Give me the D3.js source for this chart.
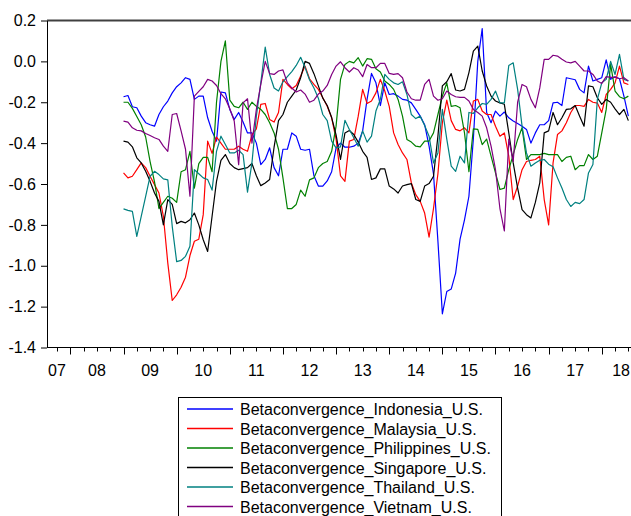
<!DOCTYPE html>
<html>
<head>
<meta charset="utf-8">
<script src="https://cdn.jsdelivr.net/npm/d3@7"></script>
<style>
  html, body { margin: 0; padding: 0; background: #fff; }
  svg text { font-family: "Liberation Sans", Arial, sans-serif; fill: #000; }
</style>
</head>
<body>
<div id="chart"></div>
<script>
// monthly observations, 2009M01 .. 2018M07
const startYear = 2009;

const indonesia = [-0.173,-0.167,-0.222,-0.227,-0.268,-0.30,-0.31,-0.317,-0.26,-0.222,-0.194,-0.154,-0.124,-0.105,-0.08,-0.088,-0.186,-0.17,-0.17,-0.276,
  -0.342,-0.39,-0.15,-0.154,-0.235,-0.284,-0.25,-0.297,-0.35,-0.35,-0.40,-0.505,-0.48,-0.423,-0.52,-0.56,-0.43,-0.43,-0.35,-0.366,
  -0.43,-0.435,-0.43,-0.56,-0.61,-0.61,-0.585,-0.54,-0.423,-0.40,-0.42,-0.42,-0.415,-0.40,-0.34,-0.186,-0.059,-0.105,-0.216,-0.105,
  -0.162,-0.158,-0.17,-0.186,-0.19,-0.203,-0.235,-0.268,-0.31,-0.415,-0.55,-0.88,-1.235,-1.126,-1.114,-1.036,-0.87,-0.775,-0.66,-0.38,
  0.0,0.16,-0.25,-0.30,-0.243,-0.268,-0.248,-0.276,-0.292,-0.304,-0.317,-0.333,-0.40,-0.35,-0.31,-0.31,-0.29,-0.203,-0.20,-0.216,
  -0.08,-0.085,-0.09,-0.137,-0.154,-0.023,-0.096,-0.088,-0.08,0.007,-0.088,-0.075,-0.085,-0.17,-0.268];

const malaysia = [-0.546,-0.57,-0.562,-0.53,-0.497,-0.52,-0.562,-0.603,-0.644,-0.758,-0.987,-1.17,-1.142,-1.105,-1.056,-0.95,-0.88,-0.87,-0.75,-0.39,
  -0.45,-0.37,-0.40,-0.43,-0.43,-0.43,-0.415,-0.43,-0.44,-0.36,-0.33,-0.21,-0.206,-0.284,-0.297,-0.25,-0.088,-0.113,-0.134,-0.118,
  -0.072,-0.023,-0.085,-0.113,-0.137,-0.178,-0.22,-0.276,-0.38,-0.56,-0.587,-0.39,-0.382,-0.268,-0.137,-0.206,-0.194,-0.154,-0.088,-0.145,
  -0.22,-0.35,-0.407,-0.448,-0.48,-0.595,-0.652,-0.685,-0.742,-0.86,-0.72,-0.55,-0.30,-0.19,-0.29,-0.333,-0.34,-0.325,-0.35,-0.194,
  -0.186,-0.243,-0.26,-0.26,-0.317,-0.366,-0.35,-0.464,-0.676,-0.61,-0.53,-0.49,-0.484,-0.48,-0.464,-0.676,-0.80,-0.497,-0.358,-0.34,
  -0.30,-0.25,-0.216,-0.216,-0.22,-0.186,-0.2,-0.204,-0.25,-0.162,-0.137,-0.105,-0.023,-0.105,-0.113];

const philippines = [-0.20,-0.20,-0.23,-0.27,-0.31,-0.37,-0.49,-0.59,-0.72,-0.69,-0.66,-0.67,-0.69,-0.54,-0.53,-0.44,-0.62,-0.50,-0.47,-0.47,
  -0.54,-0.20,0.0,0.10,-0.19,-0.22,-0.227,-0.20,-0.235,-0.20,-0.22,-0.235,-0.26,-0.30,-0.35,-0.43,-0.57,-0.72,-0.72,-0.70,
  -0.63,-0.66,-0.58,-0.57,-0.52,-0.50,-0.49,-0.44,-0.317,-0.088,-0.015,0.0,-0.007,0.018,-0.023,0.013,0.01,-0.036,-0.052,-0.096,
  -0.113,-0.137,-0.186,-0.268,-0.382,-0.395,-0.415,-0.418,-0.39,-0.39,-0.35,-0.26,-0.17,-0.105,-0.22,-0.216,-0.227,-0.35,-0.54,-0.33,
  -0.333,-0.407,-0.38,-0.464,-0.546,-0.627,-0.62,-0.53,-0.456,-0.382,-0.325,-0.48,-0.456,-0.456,-0.456,-0.45,-0.456,-0.456,-0.456,-0.49,
  -0.47,-0.464,-0.53,-0.51,-0.51,-0.456,-0.48,-0.464,-0.35,-0.235,-0.015,-0.145,-0.173,-0.183,-0.17];

const singapore = [-0.39,-0.395,-0.418,-0.472,-0.497,-0.538,-0.587,-0.644,-0.685,-0.80,-0.676,-0.70,-0.794,-0.783,-0.79,-0.775,-0.742,-0.80,-0.873,-0.93,
  -0.758,-0.587,-0.484,-0.456,-0.50,-0.52,-0.53,-0.525,-0.52,-0.50,-0.56,-0.608,-0.595,-0.578,-0.42,-0.29,-0.26,-0.2,-0.17,-0.14,
  -0.08,0.0,-0.01,-0.06,-0.12,-0.18,-0.216,-0.275,-0.36,-0.48,-0.35,-0.338,-0.358,-0.395,-0.44,-0.47,-0.578,-0.57,-0.526,-0.526,
  -0.61,-0.624,-0.644,-0.61,-0.603,-0.598,-0.676,-0.685,-0.61,-0.598,-0.562,-0.366,-0.12,-0.1,-0.06,-0.14,-0.145,-0.137,-0.055,0.05,
  0.075,-0.047,-0.12,-0.17,-0.194,-0.203,-0.21,-0.35,-0.497,-0.62,-0.725,-0.75,-0.766,-0.69,-0.595,-0.35,-0.34,-0.25,-0.31,-0.276,
  -0.235,-0.232,-0.216,-0.268,-0.317,-0.12,-0.124,-0.178,-0.21,-0.186,-0.2,-0.232,-0.26,-0.235,-0.29];

const thailand = [-0.722,-0.729,-0.734,-0.856,-0.758,-0.66,-0.562,-0.538,-0.554,-0.575,-0.58,-0.807,-0.98,-0.974,-0.954,-0.905,-0.53,-0.55,-0.57,-0.578,
  -0.63,-0.44,-0.366,-0.407,-0.448,-0.448,-0.435,-0.456,-0.64,-0.497,-0.268,-0.105,0.07,-0.064,-0.13,-0.145,-0.10,-0.075,-0.05,-0.02,
  0.02,-0.03,-0.09,-0.13,-0.18,-0.26,-0.29,-0.39,-0.423,-0.418,-0.288,-0.333,-0.374,-0.415,-0.34,-0.395,-0.366,-0.243,-0.186,-0.064,
  -0.088,-0.105,-0.113,-0.1,-0.162,-0.26,-0.28,-0.268,-0.314,-0.366,-0.497,-0.448,-0.235,-0.38,-0.513,-0.538,-0.464,-0.497,-0.25,-0.255,
  -0.227,-0.206,-0.21,-0.186,-0.145,-0.203,-0.203,-0.02,-0.007,-0.137,-0.317,-0.448,-0.513,-0.497,-0.484,-0.48,-0.503,-0.516,-0.57,-0.62,
  -0.676,-0.71,-0.69,-0.696,-0.676,-0.546,-0.505,-0.186,-0.105,-0.088,0.0,-0.064,0.034,-0.088,-0.096];

const vietnam = [-0.292,-0.297,-0.325,-0.337,-0.34,-0.353,-0.363,-0.374,-0.382,-0.415,-0.44,-0.26,-0.255,-0.34,-0.43,-0.66,-0.17,-0.147,-0.124,-0.088,
  -0.096,-0.118,-0.158,-0.183,-0.232,-0.292,-0.505,-0.203,-0.183,-0.40,-0.235,-0.113,0.0,-0.06,-0.064,-0.047,-0.042,-0.105,-0.13,-0.15,
  -0.14,-0.16,-0.2,-0.19,-0.16,-0.145,-0.118,-0.064,-0.023,-0.002,-0.031,-0.052,-0.031,-0.042,-0.075,-0.015,-0.031,-0.031,-0.01,-0.01,
  -0.059,-0.064,-0.06,-0.08,-0.15,-0.183,-0.19,-0.19,-0.113,-0.088,-0.17,-0.19,-0.183,-0.145,-0.162,-0.173,-0.176,-0.176,-0.194,-0.235,
  -0.25,-0.268,-0.325,-0.415,-0.53,-0.72,-0.83,-0.38,-0.49,-0.20,-0.113,-0.124,-0.186,-0.227,-0.13,0.01,0.01,0.03,0.026,0.01,
  -0.003,-0.007,0.0,-0.023,-0.047,-0.047,-0.064,-0.096,-0.108,-0.075,-0.078,-0.077,-0.085,-0.08,-0.096];

const seriesNames = [
  "Betaconvergence_Indonesia_U.S.",
  "Betaconvergence_Malaysia_U.S.",
  "Betaconvergence_Philippines_U.S.",
  "Betaconvergence_Singapore_U.S.",
  "Betaconvergence_Thailand_U.S.",
  "Betaconvergence_Vietnam_U.S."
];
const seriesValues = [indonesia, malaysia, philippines, singapore, thailand, vietnam];
const seriesColors = ["#0000ff", "#ff0000", "#008000", "#000000", "#008080", "#800080"];

const yTicks = [0.2, 0.0, -0.2, -0.4, -0.6, -0.8, -1.0, -1.2, -1.4];
const yearLabels = ["07", "08", "09", "10", "11", "12", "13", "14", "15", "16", "17", "18"];
const firstYear = 2007;

const width = 631, height = 516;
const plot = { left: 47, right: 631, top: 20.5, bottom: 347.5 };

const svg = d3.select("#chart").append("svg")
  .attr("width", width)
  .attr("height", height);

const x = d3.scaleLinear().domain([2007.56, 2018.55]).range([plot.left, plot.right]);
const y = d3.scaleLinear().domain([-1.4, 0.2]).range([plot.bottom, plot.top]);

// top border
svg.append("line")
  .attr("x1", plot.left).attr("x2", plot.right)
  .attr("y1", plot.top).attr("y2", plot.top)
  .attr("stroke", "#404040").attr("stroke-width", 2);

// left axis
const yAxis = d3.axisLeft(y)
  .tickValues(yTicks)
  .tickFormat(d => d.toFixed(1))
  .tickSize(6)
  .tickSizeOuter(0)
  .tickPadding(5);

const gy = svg.append("g")
  .attr("transform", `translate(${plot.left},0)`)
  .call(yAxis);
gy.selectAll("text").style("font-size", "16px").attr("font-family", null);
gy.select(".domain").attr("stroke", "#000");

// bottom axis: year ticks long, quarter ticks short
const quarters = d3.range(2007.75, 2018.55, 0.25);
const gx = svg.append("g");
gx.append("line")
  .attr("x1", plot.left).attr("x2", plot.right)
  .attr("y1", plot.bottom).attr("y2", plot.bottom)
  .attr("stroke", "#000");
gx.selectAll("line.tick")
  .data(quarters)
  .join("line")
  .attr("class", "tick")
  .attr("x1", d => Math.round(x(d)) + 0.5)
  .attr("x2", d => Math.round(x(d)) + 0.5)
  .attr("y1", plot.bottom)
  .attr("y2", d => plot.bottom + (Math.abs(d - Math.round(d)) < 1e-6 ? 7 : 4))
  .attr("stroke", "#000");

gx.selectAll("text")
  .data(yearLabels)
  .join("text")
  .attr("text-anchor", "middle")
  .attr("y", 376)
  .style("font-size", "16px")
  .text(d => d)
  .attr("x", function(d, i) {
    const w = this.getComputedTextLength();
    const cx = x(firstYear + i + 0.5);
    return Math.max(plot.left + w / 2 + 1, Math.min(plot.right - w / 2 - 1, cx));
  });

// series lines
const line = d3.line()
  .x((d, i) => x(startYear + i / 12))
  .y(d => y(d));

svg.append("g")
  .selectAll("path")
  .data(seriesValues)
  .join("path")
  .attr("d", d => line(d))
  .attr("fill", "none")
  .attr("stroke", (d, i) => seriesColors[i])
  .attr("stroke-width", 1.2)
  .attr("stroke-linejoin", "round");

// legend
const legend = svg.append("g");
legend.append("rect")
  .attr("x", 178.5).attr("y", 397.5)
  .attr("width", 323).attr("height", 140)
  .attr("fill", "#fff")
  .attr("stroke", "#000");

const legendItems = seriesNames.map((name, i) => ({ name, color: seriesColors[i] }));

const rows = legend.selectAll("g.row")
  .data(legendItems)
  .join("g")
  .attr("class", "row")
  .attr("transform", (d, i) => `translate(0,${409 + i * 19.5})`);

rows.append("line")
  .attr("x1", 187).attr("x2", 233)
  .attr("y1", 0).attr("y2", 0)
  .attr("stroke-width", 1.4)
  .attr("stroke", d => d.color);

rows.append("text")
  .attr("x", 240)
  .attr("y", 6)
  .style("font-size", "16px")
  .text(d => d.name);
</script>
</body>
</html>
